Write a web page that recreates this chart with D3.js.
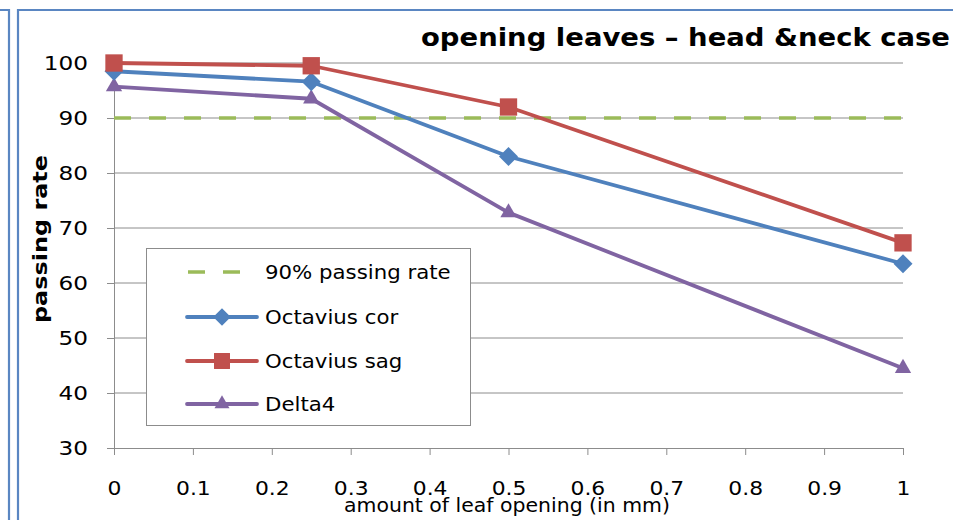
<!DOCTYPE html>
<html><head><meta charset="utf-8">
<script src="https://cdn.jsdelivr.net/npm/d3@7"></script>
<style>
body{margin:0;background:#fff;}
svg{display:block;font-family:"DejaVu Sans",sans-serif;}
</style></head>
<body><svg id="c" width="953" height="520"></svg>
<script>
const xValues = [0, 0.25, 0.5, 1];
const octaviusCor = [98.5, 96.6, 83, 63.5];
const octaviusSag = [100, 99.5, 92, 67.3];
const delta4 = [95.7, 93.5, 72.8, 44.5];
const targetRate = 90;
const yTicks = [30, 40, 50, 60, 70, 80, 90, 100];
const xTicks = [0, 0.1, 0.2, 0.3, 0.4, 0.5, 0.6, 0.7, 0.8, 0.9, 1];
const seriesNames = ["90% passing rate", "Octavius cor", "Octavius sag", "Delta4"];

const svg = d3.select("#c");
const x = d3.scaleLinear().domain([0, 1]).range([114, 903]);
const y = d3.scaleLinear().domain([30, 100]).range([448, 63]);

// widen text to mimic the wide geometric face of the original
function widen(sel, k){
  sel.each(function(){
    const w = this.getComputedTextLength();
    d3.select(this).attr("textLength", w*k).attr("lengthAdjust","spacingAndGlyphs");
  });
}

// slide borders
const border = "#5a86c2";
svg.append("path").attr("d","M0,10 H9 V520").attr("fill","none").attr("stroke",border).attr("stroke-width",2.2);
svg.append("path").attr("d","M18,520 V10 H953").attr("fill","none").attr("stroke",border).attr("stroke-width",2.2);

// gridlines
svg.append("g").selectAll("line").data(yTicks.filter(d=>d>30)).join("line")
  .attr("x1",114).attr("x2",903).attr("y1",d=>y(d)).attr("y2",d=>y(d))
  .attr("stroke","#8c8c8c").attr("stroke-width",1);

// axes
const yAxis = svg.append("g").attr("transform","translate(114,0)")
  .call(d3.axisLeft(y).tickValues(yTicks).tickSize(7).tickPadding(19).tickFormat(d3.format("d")));
const xAxis = svg.append("g").attr("transform","translate(0,448)")
  .call(d3.axisBottom(x).tickValues(xTicks).tickSize(7).tickPadding(27).tickFormat(d=>d===0||d===1?String(d):d3.format(".1f")(d)));
[yAxis,xAxis].forEach(a=>{
  a.select(".domain").attr("stroke","#8c8c8c");
  a.selectAll(".tick line").attr("stroke","#8c8c8c");
  a.selectAll("text").attr("fill","#000").style("font-size","19px").style("font-family","'DejaVu Sans',sans-serif");
});
yAxis.selectAll("text").attr("dy","0.36em");
widen(yAxis.selectAll("text"), 1.22);
widen(xAxis.selectAll("text"), 1.15);

// target line
svg.append("line").attr("x1",x(0)).attr("x2",x(1)).attr("y1",y(targetRate)).attr("y2",y(targetRate))
  .attr("stroke","#9bbb59").attr("stroke-width",3.5).attr("stroke-dasharray","17,18");

const series = [
  {name: seriesNames[1], values: octaviusCor, color:"#4f81bd", sym: d3.symbolDiamond2, size: 230},
  {name: seriesNames[2], values: octaviusSag, color:"#c0504d", sym: d3.symbolSquare, size: 300},
  {name: seriesNames[3], values: delta4, color:"#8064a2", sym: d3.symbolTriangle, size: 115}
];
const line = d3.line().x((d,i)=>x(xValues[i])).y(d=>y(d));
[series[2], series[0], series[1]].forEach(s=>{
  svg.append("path").datum(s.values).attr("d",line).attr("fill","none")
    .attr("stroke",s.color).attr("stroke-width",3.8).attr("stroke-linejoin","round");
  svg.append("g").selectAll("path").data(s.values).join("path")
    .attr("transform",(d,i)=>`translate(${x(xValues[i])},${y(d)})`)
    .attr("d",d3.symbol(s.sym,s.size)).attr("fill",s.color);
});

// legend
const lg = svg.append("g");
lg.append("rect").attr("x",146.5).attr("y",248.5).attr("width",324).attr("height",177)
  .attr("fill","#fff").attr("stroke","#8c8c8c").attr("stroke-width",1);
const rows = [272, 317, 361, 404];
lg.append("line").attr("x1",187).attr("x2",257).attr("y1",rows[0]).attr("y2",rows[0])
  .attr("stroke","#9bbb59").attr("stroke-width",3.5).attr("stroke-dasharray","17,18").attr("stroke-dashoffset",-1);
series.forEach((s,i)=>{
  const yy = rows[i+1];
  lg.append("line").attr("x1",187).attr("x2",257).attr("y1",yy).attr("y2",yy)
    .attr("stroke",s.color).attr("stroke-width",3.8).attr("stroke-linecap","round");
  lg.append("path").attr("transform",`translate(222,${yy})`).attr("d",d3.symbol(s.sym,s.size*0.85)).attr("fill",s.color);
});
const lt = lg.selectAll("text.l").data(seriesNames).join("text").attr("class","l")
  .attr("x",265).attr("y",(d,i)=>rows[i]).attr("dy","0.36em")
  .style("font-size","19px").text(d=>d);
widen(lt, 1.12);

// title
svg.append("text").attr("x",421).attr("y",46).style("font-size","24px").style("font-weight","bold")
  .attr("textLength",529).attr("lengthAdjust","spacingAndGlyphs")
  .text("opening leaves \u2013 head &neck case");

// axis titles
svg.append("text").attr("x",507).attr("y",512).attr("text-anchor","middle").style("font-size","19px")
  .attr("textLength",326).attr("lengthAdjust","spacingAndGlyphs")
  .text("amount of leaf opening (in mm)");
svg.append("text").attr("transform","translate(47,239) rotate(-90)").attr("text-anchor","middle")
  .style("font-size","20px").style("font-weight","bold")
  .attr("textLength",168).attr("lengthAdjust","spacingAndGlyphs").text("passing rate");
</script></body></html>
